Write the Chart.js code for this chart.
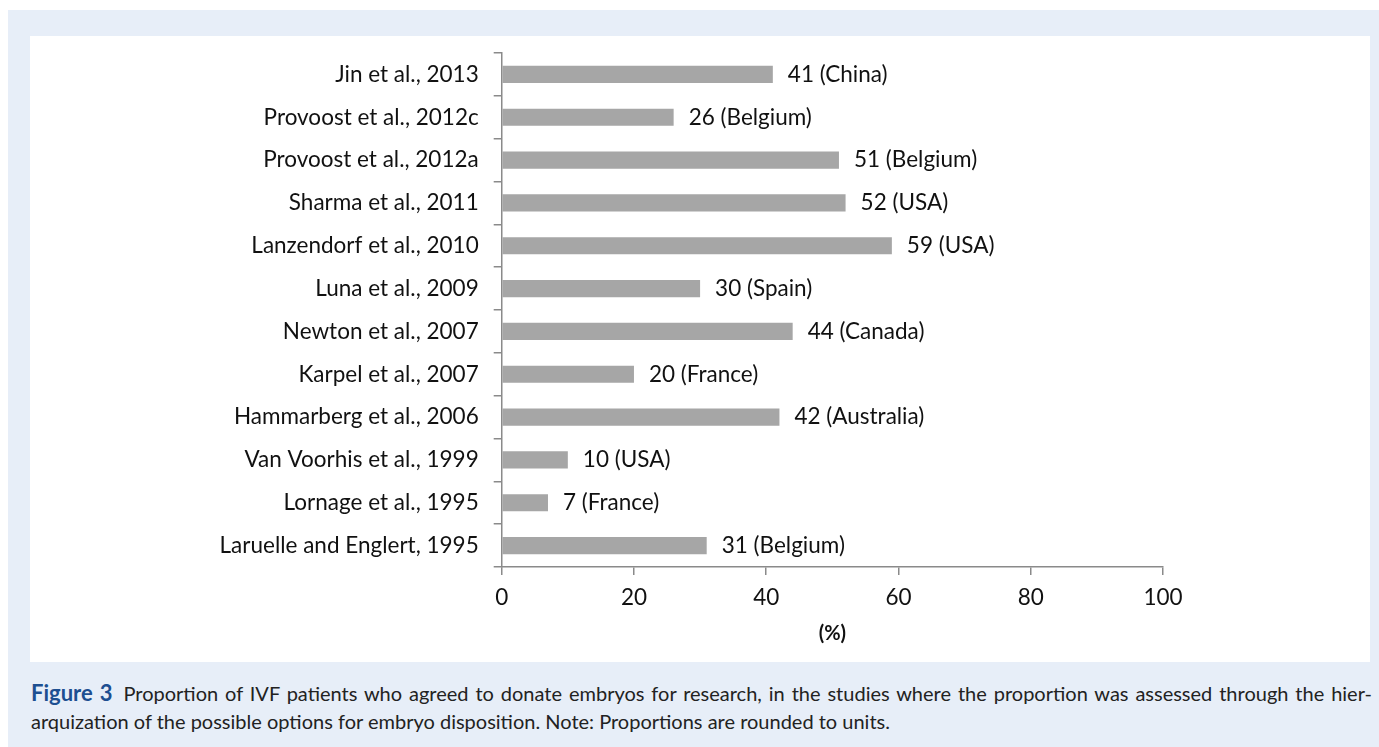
<!DOCTYPE html>
<html>
<head>
<meta charset="utf-8">
<script src="https://cdn.jsdelivr.net/npm/chart.js@4.4.1/dist/chart.umd.min.js"></script>
<style>
  html, body { margin: 0; padding: 0; background: #fff; }
  body { width: 1379px; height: 747px; position: relative; overflow: hidden; }
  #outer { position: absolute; left: 8px; top: 10px; right: 0; bottom: 0; background: #e7eef8; }
  #panel { position: absolute; left: 30px; top: 36px; width: 1340px; height: 626px; background: #fff; }
  #caption { position: absolute; left: 31px; top: 679px; width: 1341px; font-family: Lato, sans-serif;
             font-size: 20px; line-height: 28px; color: #222; }
  #caption .l1 { text-align: justify; text-align-last: justify; }
  #caption b { color: #1d4f91; font-size: 22px; margin-right: 4px; }
</style>
</head>
<body>
<div id="outer"></div>
<div id="panel"><canvas id="chart" width="1340" height="626"></canvas></div>
<div id="caption">
  <div class="l1"><b>Figure 3</b> Proportion of IVF patients who agreed to donate embryos for research, in the studies where the proportion was assessed through the hier-</div>
  <div>arquization of the possible options for embryo disposition. Note: Proportions are rounded to units.</div>
</div>
<script>
const studies = [
  "Jin et al., 2013",
  "Provoost et al., 2012c",
  "Provoost et al., 2012a",
  "Sharma et al., 2011",
  "Lanzendorf et al., 2010",
  "Luna et al., 2009",
  "Newton et al., 2007",
  "Karpel et al., 2007",
  "Hammarberg et al., 2006",
  "Van Voorhis et al., 1999",
  "Lornage et al., 1995",
  "Laruelle and Englert, 1995"
];
const percents = [41, 26, 51, 52, 59, 30, 44, 20, 42, 10, 7, 31];
const countries = ["China", "Belgium", "Belgium", "USA", "USA", "Spain", "Canada", "France", "Australia", "USA", "France", "Belgium"];
const xTicks = [0, 20, 40, 60, 80, 100];

const textColor = "#111";
const axisColor = "#8a8a8a";
const fontFamily = "Lato, 'Open Sans', sans-serif";
const fontSize = 22.5;

// value labels to the right of each bar
const barLabels = {
  id: "barLabels",
  afterDatasetsDraw(chart) {
    const ctx = chart.ctx;
    const meta = chart.getDatasetMeta(0);
    ctx.save();
    ctx.font = fontSize + "px " + fontFamily;
    ctx.fillStyle = textColor;
    ctx.textAlign = "left";
    ctx.textBaseline = "middle";
    meta.data.forEach((bar, i) => {
      ctx.fillText(percents[i] + " (" + countries[i] + ")", bar.x + 15, bar.y);
    });
    ctx.restore();
  }
};

new Chart(document.getElementById("chart"), {
  type: "bar",
  data: {
    labels: studies,
    datasets: [{
      data: percents,
      backgroundColor: "#a6a6a6",
      borderWidth: 0,
      categoryPercentage: 1,
      barPercentage: 0.4
    }]
  },
  options: {
    indexAxis: "y",
    responsive: false,
    animation: false,
    layout: { padding: { top: 17, right: 207, bottom: 16, left: 0 } },
    plugins: { legend: { display: false }, tooltip: { enabled: false } },
    scales: {
      y: {
        afterFit: (scale) => {
          scale.width = 471.7;
          scale.paddingTop = 0;
          scale.paddingBottom = 0;
        },
        grid: { drawOnChartArea: false, color: axisColor, tickLength: 8, lineWidth: 1.5 },
        border: { color: axisColor, width: 1.5 },
        ticks: { color: textColor, font: { family: fontFamily, size: fontSize }, padding: 15 }
      },
      x: {
        min: 0,
        max: 100,
        afterBuildTicks: (scale) => { scale.ticks = xTicks.map(v => ({ value: v })); },
        grid: { drawOnChartArea: false, color: axisColor, tickLength: 8, lineWidth: 1.5 },
        border: { color: axisColor, width: 1.5 },
        ticks: { color: textColor, font: { family: fontFamily, size: fontSize }, padding: 9, maxRotation: 0 },
        title: { display: true, text: "(%)", color: textColor, font: { family: fontFamily, size: 20, weight: "bold" }, padding: { top: 2, bottom: 0 } }
      }
    }
  },
  plugins: [barLabels]
});
</script>
</body>
</html>
